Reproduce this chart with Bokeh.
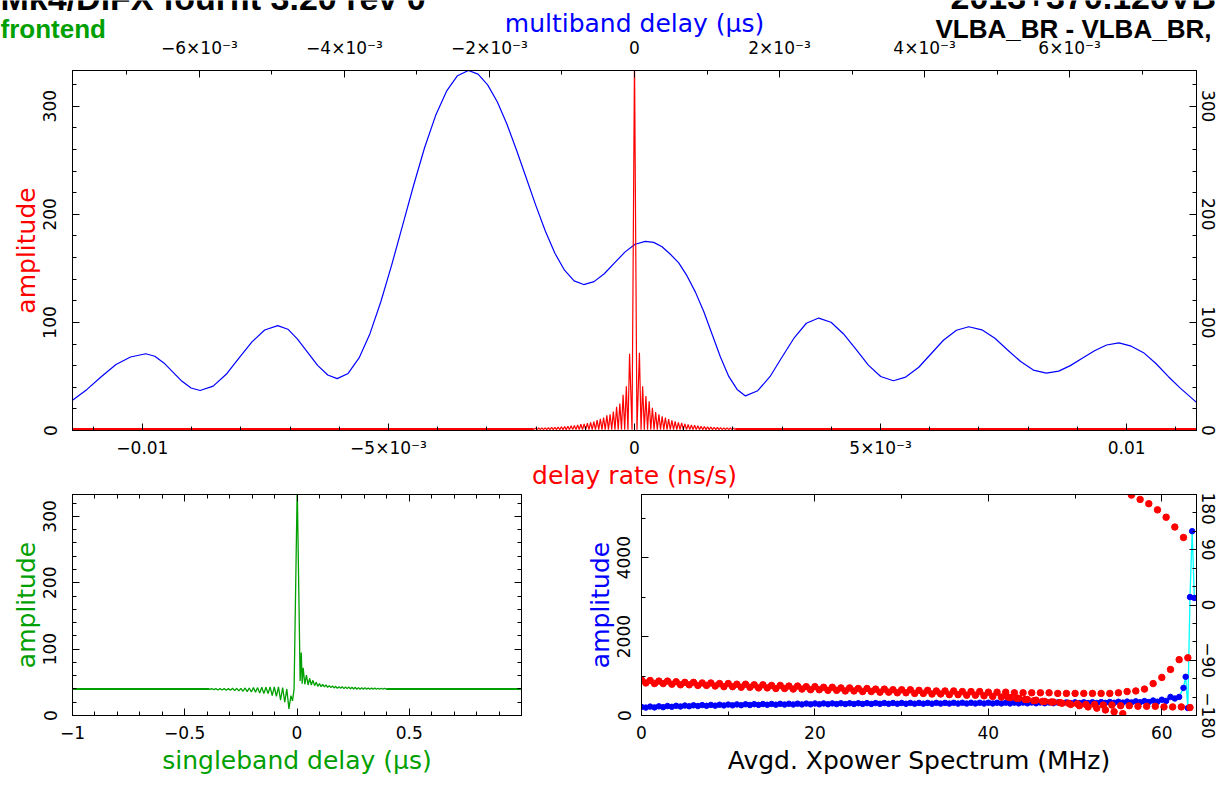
import math
from bokeh.plotting import figure
from bokeh.models import Range1d, LinearAxis, FixedTicker, CustomJSTickFormatter
from bokeh.layouts import column, row
from bokeh.embed import file_html
from bokeh.resources import INLINE
from bokeh.core.properties import value

# ======================= DATA =======================
# --- top panel: multiband delay amplitude (blue), x in units of 1e-3 us
mbd_x_e3 = [-7.75, -7.55, -7.35, -7.15, -6.95, -6.74,
            -6.615, -6.49, -6.365, -6.24, -6.115, -5.99,
            -5.81, -5.63, -5.455, -5.275, -5.10, -4.92,
            -4.78, -4.65, -4.51, -4.37, -4.23, -4.10,
            -3.949, -3.798, -3.648, -3.497, -3.346, -3.195, -3.044, -2.894, -2.743, -2.592, -2.441, -2.29,
            -2.1575, -2.025, -1.8925, -1.76, -1.6275, -1.495, -1.3625, -1.23, -1.0975, -0.965, -0.8325, -0.70,
            -0.558, -0.417, -0.275, -0.133, 0.008, 0.15,
            0.265, 0.38, 0.495, 0.61, 0.725, 0.84, 0.955, 1.07, 1.185, 1.30, 1.415, 1.53,
            1.70, 1.87, 2.035, 2.205, 2.37, 2.54,
            2.71, 2.88, 3.055, 3.225, 3.395, 3.57,
            3.74, 3.92, 4.09, 4.26, 4.44, 4.61,
            4.79, 4.97, 5.145, 5.325, 5.50, 5.68,
            5.85, 6.01, 6.18, 6.35, 6.51, 6.68,
            6.85, 7.02, 7.19, 7.36, 7.53, 7.75]
mbd_amp = [28, 38, 50, 61, 68, 71,
           68.7, 62.5, 54, 45.5, 39.3, 37,
           41, 52, 67, 82, 93, 97,
           93.7, 84.8, 72.5, 60.3, 51.3, 48,
           52.8, 67.1, 89.6, 119.3, 153.7, 190.5, 227.3, 261.8, 291.3, 313.9, 328.2, 333,
           329.6, 319.7, 304.1, 283.5, 259.5, 234, 208.5, 184.5, 163.9, 148.3, 138.4, 135,
           137.7, 145, 155, 165, 172.3, 175,
           174, 170, 163, 155, 143, 128, 110, 89, 68, 50, 38, 32,
           36.8, 50, 68, 86, 99.2, 104,
           100.1, 89.5, 75, 60.5, 49.9, 46,
           49.4, 58.5, 71, 83.5, 92.7, 96,
           93.1, 85.3, 74.5, 63.8, 55.9, 53,
           54.9, 60, 67, 74, 79.1, 81,
           78, 72, 62, 50, 39, 26]

# --- top panel: delay rate amplitude (red)
rate_spike_amp = 345
rate_lobe_step = 6.6e-5          # ns/s between side-lobe peaks
rate_first_lobe = 1.0e-4         # ns/s
rate_trough = 0.8
rate_tail = 1.2
rate_peaks_left = [71, 41, 33, 25, 22, 17.5, 15, 14, 12, 10.7, 9.7, 8.3, 7.6, 6.7, 6.0,
                   5.8, 5.1, 4.6, 4.3, 4.0, 3.7, 3.4, 3.2, 3.0, 2.8, 2.6, 2.5, 2.4, 2.3, 2.2]
rate_peaks_right = [72, 41, 32, 27, 21, 17, 15, 13, 12, 10.5, 9.5, 8.5, 7.5, 7.0, 6.2,
                    5.6, 5.2, 4.8, 4.4, 4.0, 3.7, 3.4, 3.2, 3.0, 2.8, 2.6, 2.5, 2.4, 2.3, 2.2]

# axis tick values
rate_ticks = [-0.01, -0.005, 0, 0.005, 0.01]
mbd_ticks = [-0.006, -0.004, -0.002, 0, 0.002, 0.004, 0.006]
mbd_tick_labels = ["\u22126\u00d710\u207b\u00b3", "\u22124\u00d710\u207b\u00b3", "\u22122\u00d710\u207b\u00b3",
                   "0", "2\u00d710\u207b\u00b3", "4\u00d710\u207b\u00b3", "6\u00d710\u207b\u00b3"]

# --- bottom-left: singleband delay amplitude (green)
sbd_core_x = [-0.036, -0.027, -0.020, -0.013, 0.001, 0.014, 0.019, 0.023]
sbd_core_amp = [10, 30, 22, 40, 345, 52, 95, 48]
sbd_left_step = 0.0186
sbd_left_peaks = [40, 42, 43, 43, 43, 42.5, 42.5, 42, 42, 41.5, 41.5, 41, 41, 41, 40.5,
                  40.5, 40.5, 40.5, 40.5]
sbd_left_troughs = [20, 23, 29, 30, 33, 33, 34, 35, 35.5, 36, 36.5, 37, 37.5, 38, 38,
                    38.5, 38.5, 39, 39]
sbd_right_first = 0.0275
sbd_right_step = 0.0145
sbd_right_peaks = [72, 61, 56, 53, 50, 48, 47, 46, 45, 44.5, 44, 43.5, 43.5, 43, 43, 42.5,
                   42.5, 42, 42, 42, 41.5, 41.5, 41.5, 41, 41, 41]
sbd_right_troughs = [47, 46, 46, 45, 44, 43.5, 43, 42.5, 42, 41.5, 41, 41, 40.5, 40.5, 40,
                     40, 39.5, 39.5, 39.5, 39.5, 39.5, 39.5, 39.5, 39.5, 39.5, 39.5]
sbd_tail_left = 39.8
sbd_tail_right = 40.0

# --- bottom-right: averaged cross-power spectrum
xpow_freq_main_step = 0.5
xpow_amp_main = [218, 200, 225, 205, 232, 212, 240, 220, 246, 228,
                 252, 234, 258, 240, 263, 245, 268, 250, 272, 255,
                 277, 258, 281, 262, 284, 266, 287, 269, 290, 272,
                 293, 274, 295, 277, 297, 279, 300, 281, 302, 283,
                 304, 285, 306, 287, 307, 289, 309, 290, 310, 292,
                 311, 293, 313, 294, 314, 295, 315, 296, 316, 297,
                 317, 298, 318, 299, 318, 300, 319, 300, 320, 301,
                 320, 302, 321, 302, 322, 303, 322, 304, 323, 304,
                 324, 305, 324, 306, 325, 306, 326, 307, 327, 308,
                 328, 309, 329, 310, 330, 311, 331, 312, 332, 313,
                 333, 314, 335, 316, 337, 318, 340, 320, 344, 323,
                 348, 327, 352, 331, 358, 336, 366, 342, 380, 350]
xpow_freq_end = [60, 60.5, 61, 61.5, 62, 62.5, 62.75, 63, 63.25, 63.5, 63.75]
xpow_amp_end = [400, 370, 470, 430, 470, 700, 980, 190, 3000, 4670, 2980]

phase_a_freq0 = 0.0
phase_a = [-122, -123, -124, -124, -125, -126, -126, -127, -127, -128,
           -128, -129, -129, -130, -130, -131, -131, -132, -132, -133,
           -133, -134, -134, -135, -135, -136, -136, -137, -137, -138,
           -138, -138, -139, -139, -140, -140, -140, -141, -141, -141,
           -142, -142, -142, -143, -143, -143, -143, -143, -144, -144,
           -144, -144, -144, -144, -144, -143, -141, -140, -137, -128,
           -118, -105, -89, -86]
phase_b_freq0 = 0.5
phase_b = [-127, -128, -128, -129, -130, -130, -131, -131, -132, -133,
           -133, -134, -134, -135, -135, -136, -136, -137, -137, -138,
           -138, -139, -139, -140, -140, -141, -141, -142, -142, -143,
           -143, -144, -144, -145, -145, -146, -146, -147, -147, -148,
           -149, -150, -151, -152, -154, -155, -157, -158, -160, -162,
           -164, -166, -168, -171, -174, -177, 179, 172, 165, 155,
           143, 127, 110]
phase_c_freq0 = 42.25
phase_c = [-150, -152, -154, -156, -157, -158, -159, -160, -161, -162, -162,
           -163, -163, -164, -164, -165, -165, -165, -166, -166, -166, -167]

# ======================= LAYOUT CONSTANTS =======================
PAGE_W, PAGE_H = 1223, 787
HDR_H = 57                     # header strip (titles, top axis labels)
MAIN_H = 435                   # top panel figure
BOT_H = PAGE_H - HDR_H - MAIN_H
FRAME_L, FRAME_R = 72, 1196    # top panel frame, page px
RATE_LIM = 0.01142
MBD_LIM = 0.00775

FONT = "DejaVu Sans"
TFONT = "Liberation Sans"
RED, BLUE, GREEN, CYAN = "#ff0000", "#0000ff", "#00a000", "#00ffff"
TICK_FS = "17px"
LABEL_FS = "25px"
BASELINE_FIX = 0.42            # renderer places 'alphabetic' text this many font sizes low


def zigzag(first_pos, step, peaks, troughs, direction):
    xs, ys = [], []
    for k, (pk, tr) in enumerate(zip(peaks, troughs)):
        xs.append(first_pos + direction * k * step)
        ys.append(pk)
        xs.append(first_pos + direction * (k + 0.5) * step)
        ys.append(tr)
    return xs, ys


num_fmt = CustomJSTickFormatter(code="""
const r = Math.round(tick * 1000) / 1000;
if (r === 0) return "0";
return (r < 0 ? "\\u2212" : "") + String(Math.abs(r));
""")

e3_fmt = CustomJSTickFormatter(code="""
const m = Math.round(tick * 10000) / 10;
if (Math.abs(m) < 1e-9) return "0";
const s = m < 0 ? "\\u2212" : "";
if (Math.abs(Math.abs(m) - 10) < 1e-6) return s + "0.01";
return s + String(Math.abs(m)) + "\\u00d710\\u207b\\u00b3";
""")

blank_fmt = CustomJSTickFormatter(code="return '';")


def style(ax, standoff=8, font_size=TICK_FS, label_color="black", label_standoff=0):
    ax.axis_line_color = "black"
    ax.axis_line_width = 1
    ax.major_tick_in = 7
    ax.major_tick_out = 0
    ax.minor_tick_in = 4
    ax.minor_tick_out = 0
    ax.major_tick_line_color = "black"
    ax.minor_tick_line_color = "black"
    ax.major_label_text_font = FONT
    ax.major_label_text_font_size = font_size
    ax.major_label_text_color = "black"
    ax.major_label_standoff = standoff
    ax.axis_label_text_font = FONT
    ax.axis_label_text_font_size = LABEL_FS
    ax.axis_label_text_font_style = "normal"
    ax.axis_label_text_color = label_color
    ax.axis_label_standoff = label_standoff
    return ax


def ticks_only(ax):
    style(ax, standoff=0, font_size="0px")
    ax.formatter = blank_fmt
    return ax


def base_fig(w, h, xr, yr, bl, br, bt, bb, outline=True):
    f = figure(width=w, height=h, x_range=xr, y_range=yr, output_backend="svg",
               toolbar_location=None, x_axis_location=None, y_axis_location=None,
               min_border_left=bl, min_border_right=br, min_border_top=bt, min_border_bottom=bb)
    f.grid.visible = False
    f.outline_line_color = "black" if outline else None
    f.background_fill_color = "white"
    f.border_fill_color = "white"
    return f


# ======================= HEADER STRIP (own root, full width frame) =======================
px_per_mbd = (FRAME_R - FRAME_L) / (2 * MBD_LIM)
mbd_zero_px = (FRAME_L + FRAME_R) / 2


def px_to_mbd(px):
    return (px - mbd_zero_px) / px_per_mbd


hdr = base_fig(PAGE_W, HDR_H, Range1d(px_to_mbd(0), px_to_mbd(PAGE_W)), Range1d(HDR_H, 0),
               0, 0, 0, 0, outline=False)


def title(px, baseline, txt, size, color):
    hdr.text(x=[px_to_mbd(px)], y=[baseline - BASELINE_FIX * size], text=[txt], text_font=value(TFONT),
             text_font_size=f"{size}px", text_font_style="bold", text_color=color,
             text_baseline="alphabetic", text_align="left")


title(0, 12, "Mk4/DiFX fourfit 3.20 rev 0", 34, "black")
title(950, 11, "2013+370.126VB", 34, "black")
title(0, 39, "frontend", 26, GREEN)
title(935, 39, "VLBA_BR - VLBA_BR,", 26, "black")
hdr.text(x=[0.0], y=[23], text=["multiband delay (\u03bcs)"], text_font=value(FONT),
         text_font_size=LABEL_FS, text_color=BLUE, text_baseline="middle", text_align="center")
hdr.text(x=mbd_ticks, y=[47] * len(mbd_ticks), text=mbd_tick_labels, text_font=value(FONT),
         text_font_size=TICK_FS, text_color="black", text_baseline="middle", text_align="center")

# ======================= TOP PANEL =======================
main = base_fig(PAGE_W, MAIN_H, Range1d(-RATE_LIM, RATE_LIM), Range1d(0, 333),
                FRAME_L, PAGE_W - FRAME_R, 70 - HDR_H, HDR_H + MAIN_H - 432)
main.extra_x_ranges = {"mbd": Range1d(-MBD_LIM, MBD_LIM)}

main.add_layout(style(LinearAxis(ticker=FixedTicker(ticks=rate_ticks,
                                                    minor_ticks=[i * 0.001 for i in range(-11, 12)]),
                                 formatter=e3_fmt, axis_label="delay rate (ns/s)"),
                      standoff=7, label_color=RED, label_standoff=0), "below")
main.add_layout(ticks_only(LinearAxis(x_range_name="mbd",
                                      ticker=FixedTicker(ticks=mbd_ticks,
                                                         minor_ticks=[i * 0.001 for i in range(-7, 8)]))),
                "above")
amp_ticks = FixedTicker(ticks=[0, 100, 200, 300], minor_ticks=list(range(0, 334, 20)))
ax = style(LinearAxis(ticker=amp_ticks, formatter=num_fmt, axis_label="amplitude"),
           standoff=16, label_color=RED, label_standoff=0)
ax.major_label_orientation = "vertical"
main.add_layout(ax, "left")
ax = style(LinearAxis(ticker=amp_ticks, formatter=num_fmt), standoff=5)
ax.major_label_orientation = "vertical"
main.add_layout(ax, "right")

main.line([v * 1e-3 for v in mbd_x_e3], mbd_amp, x_range_name="mbd", line_color=BLUE, line_width=1.2)

lx, ly = zigzag(-rate_first_lobe, rate_lobe_step, rate_peaks_left,
                [rate_trough] * len(rate_peaks_left), -1)
rx, ry = zigzag(rate_first_lobe, rate_lobe_step, rate_peaks_right,
                [rate_trough] * len(rate_peaks_right), 1)
rate_x = lx[::-1] + [-5e-5, 0.0, 5e-5] + rx
rate_y = ly[::-1] + [rate_trough, rate_spike_amp, rate_trough] + ry
main.line([-RATE_LIM, rate_x[0]], [rate_tail, rate_tail], line_color=RED, line_width=2.4)
main.line([rate_x[-1], RATE_LIM], [rate_tail, rate_tail], line_color=RED, line_width=2.4)
main.line(rate_x, rate_y, line_color=RED, line_width=1.2)

# ======================= BOTTOM LEFT =======================
BOT_TOP = HDR_H + MAIN_H
sb = base_fig(560, BOT_H, Range1d(-1, 1), Range1d(0, 333), 72, 560 - 521, 494 - BOT_TOP, PAGE_H - 715)
sb_xt = FixedTicker(ticks=[-1, -0.5, 0, 0.5], minor_ticks=[i / 10 for i in range(-10, 11)])
sb.add_layout(style(LinearAxis(ticker=sb_xt, formatter=num_fmt, axis_label="singleband delay (\u03bcs)"),
                    standoff=10, label_color=GREEN, label_standoff=4), "below")
sb.add_layout(ticks_only(LinearAxis(ticker=sb_xt)), "above")
ax = style(LinearAxis(ticker=amp_ticks, formatter=num_fmt, axis_label="amplitude"),
           standoff=16, label_color=GREEN, label_standoff=0)
ax.major_label_orientation = "vertical"
sb.add_layout(ax, "left")
sb.add_layout(ticks_only(LinearAxis(ticker=amp_ticks)), "right")

gl_x, gl_y = zigzag(sbd_core_x[0] - sbd_left_step / 2, sbd_left_step, sbd_left_peaks,
                    sbd_left_troughs, -1)
gr_x, gr_y = zigzag(sbd_right_first, sbd_right_step, sbd_right_peaks, sbd_right_troughs, 1)
sbd_x = gl_x[::-1] + sbd_core_x + gr_x
sbd_y = gl_y[::-1] + sbd_core_amp + gr_y
sb.line([-1, sbd_x[0]], [sbd_tail_left, sbd_tail_left], line_color=GREEN, line_width=2.0)
sb.line([sbd_x[-1], 1], [sbd_tail_right, sbd_tail_right], line_color=GREEN, line_width=2.0)
sb.line(sbd_x, sbd_y, line_color=GREEN, line_width=1.3)

# ======================= BOTTOM RIGHT =======================
xp = base_fig(PAGE_W - 560, BOT_H, Range1d(0, 64), Range1d(0, 5600), 641 - 560, PAGE_W - 1196,
              494 - BOT_TOP, PAGE_H - 715)
xp.extra_y_ranges = {"phase": Range1d(-180, 180)}
xp_xt = FixedTicker(ticks=[0, 20, 40, 60], minor_ticks=list(range(0, 65, 10)))
xp.add_layout(style(LinearAxis(ticker=xp_xt, formatter=num_fmt, axis_label="Avgd. Xpower Spectrum (MHz)"),
                    standoff=10, label_color="black", label_standoff=4), "below")
xp.add_layout(ticks_only(LinearAxis(ticker=xp_xt)), "above")
ax = style(LinearAxis(ticker=FixedTicker(ticks=[0, 2000, 4000], minor_ticks=[1000, 3000, 5000]),
                      formatter=num_fmt, axis_label="amplitude"), standoff=11, label_color=BLUE,
           label_standoff=0)
ax.major_label_orientation = "vertical"
xp.add_layout(ax, "left")
ax = style(LinearAxis(y_range_name="phase",
                      ticker=FixedTicker(ticks=[-180, -90, 0, 90, 180],
                                         minor_ticks=list(range(-180, 181, 30))),
                      formatter=num_fmt), standoff=5)
ax.major_label_orientation = "vertical"
xp.add_layout(ax, "right")

xpow_freq = [i * xpow_freq_main_step for i in range(len(xpow_amp_main))] + xpow_freq_end
xpow_amp = xpow_amp_main + xpow_amp_end
xp.line(xpow_freq, xpow_amp, line_color=CYAN, line_width=1.3)
xp.scatter(xpow_freq, xpow_amp, size=5.5, marker="circle", fill_color=BLUE, line_color=BLUE)
for f0, ph in ((phase_a_freq0, phase_a), (phase_b_freq0, phase_b), (phase_c_freq0, phase_c)):
    xp.scatter([f0 + i for i in range(len(ph))], ph, y_range_name="phase", size=6.5,
               marker="circle", fill_color=RED, line_color=RED)

body = column(main, row(sb, xp))
open("out.html", "w").write(file_html([hdr, body], INLINE))
